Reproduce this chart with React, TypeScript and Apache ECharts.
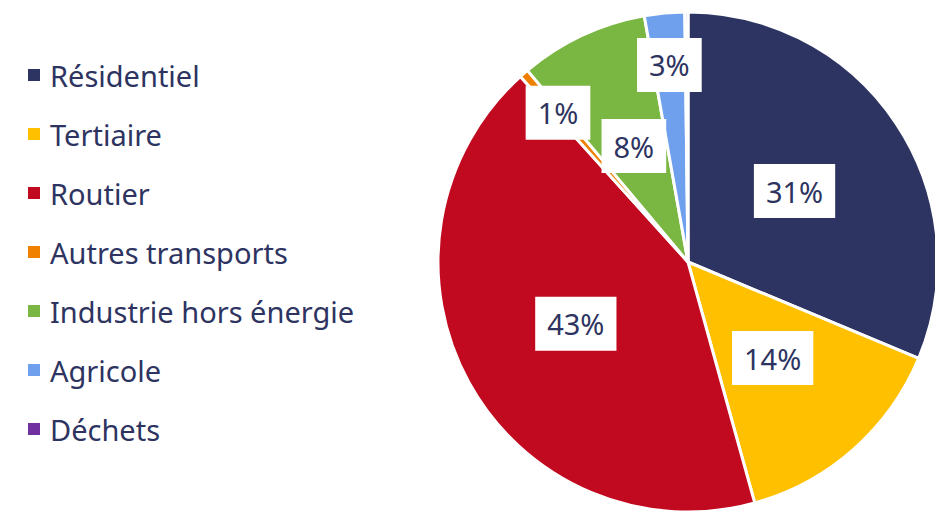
import React, { useEffect, useRef } from "react";
import * as echarts from "echarts";

const categories = [
  "Résidentiel",
  "Tertiaire",
  "Routier",
  "Autres transports",
  "Industrie hors énergie",
  "Agricole",
  "Déchets",
];
const values = [31.3, 14.4, 42.6, 0.6, 8.3, 2.6, 0.2];
const colors = ["#2E3461", "#FFC000", "#C10A1F", "#F08000", "#7AB642", "#6FA0EE", "#7030A0"];
// slices whose label sits further out (small slices)
const outerLabelNames = ["Autres transports", "Agricole"];
const hiddenLabelNames = ["Déchets"];

const FONT = "'Noto Sans', 'Open Sans', sans-serif";
const TEXT_COLOR = "#2E3461";

export default function App() {
  const ref = useRef<HTMLDivElement>(null);

  useEffect(() => {
    if (!ref.current) return;
    const chart = echarts.init(ref.current, undefined, { renderer: "svg" });

    const labelStyle = {
      fontFamily: FONT,
      fontSize: 29,
      lineHeight: 30,
      color: TEXT_COLOR,
      backgroundColor: "#ffffff",
      padding: [12, 12, 12, 12],
      formatter: (p: any) => Math.round(p.percent) + "%",
    };

    const mainData = categories.map((name, i) => ({
      name,
      value: values[i],
      itemStyle: { color: colors[i] },
      label: {
        show: !outerLabelNames.includes(name) && !hiddenLabelNames.includes(name),
      },
    }));

    const outerData = categories.map((name, i) => ({
      name,
      value: values[i],
      label: { show: outerLabelNames.includes(name) },
    }));

    chart.setOption({
      animation: false,
      backgroundColor: "#ffffff",
      legend: {
        orient: "vertical",
        left: 21,
        top: 55,
        itemWidth: 14,
        itemHeight: 14,
        itemGap: 29,
        icon: "rect",
        data: categories,
        selectedMode: false,
        textStyle: {
          fontFamily: FONT,
          fontSize: 29,
          lineHeight: 30,
          color: TEXT_COLOR,
          padding: [0, 0, 0, 4],
        },
      },
      series: [
        {
          type: "pie",
          center: [688, 262],
          radius: [0, 250],
          startAngle: 90,
          clockwise: true,
          avoidLabelOverlap: false,
          itemStyle: { borderColor: "#ffffff", borderWidth: 3 },
          label: { position: "inside", ...labelStyle },
          labelLine: { show: false },
          emphasis: { disabled: true },
          data: mainData,
        },
        {
          type: "pie",
          center: [688, 262],
          radius: [140, 250],
          startAngle: 90,
          clockwise: true,
          silent: true,
          avoidLabelOverlap: false,
          itemStyle: { color: "rgba(0,0,0,0)", borderWidth: 0 },
          label: { position: "inside", ...labelStyle },
          labelLine: { show: false },
          emphasis: { disabled: true },
          data: outerData,
        },
      ],
    });

    return () => chart.dispose();
  }, []);

  return (
    <div
      ref={ref}
      style={{ position: "fixed", left: 0, top: 0, width: 935, height: 512 }}
    />
  );
}
